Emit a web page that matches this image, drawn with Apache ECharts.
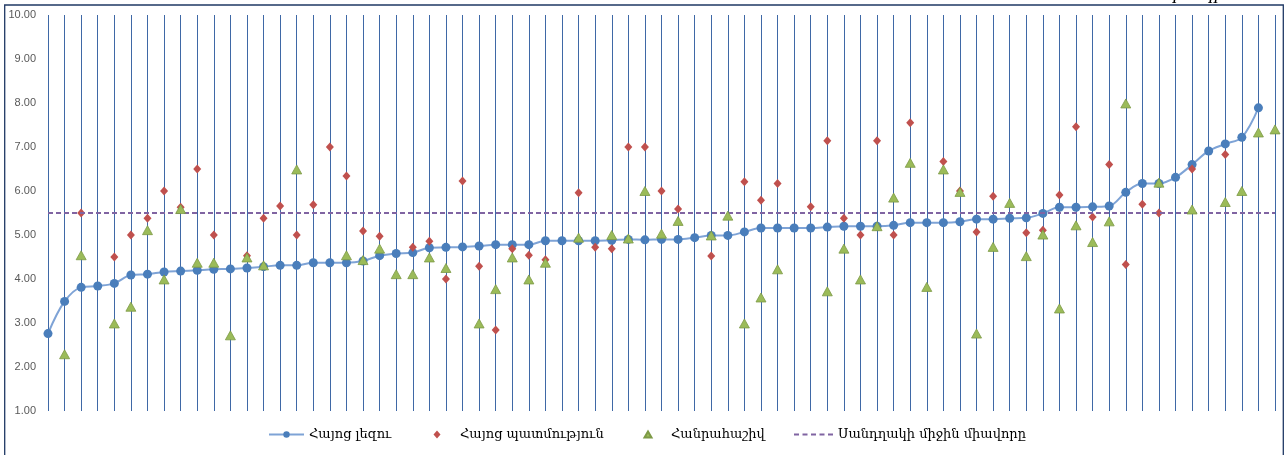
<!DOCTYPE html>
<html>
<head>
<meta charset="utf-8">
<script src="https://cdn.jsdelivr.net/npm/echarts@6/dist/echarts.min.js"></script>
<style>
html,body{margin:0;padding:0;background:#fff;}
#chart{width:1285px;height:455px;}
</style>
</head>
<body>
<div id="chart"></div>
<script>
const categories = ["1","2","3","4","5","6","7","8","9","10","11","12","13","14","15","16","17","18","19","20","21","22","23","24","25","26","27","28","29","30","31","32","33","34","35","36","37","38","39","40","41","42","43","44","45","46","47","48","49","50","51","52","53","54","55","56","57","58","59","60","61","62","63","64","65","66","67","68","69","70","71","72","73","74","75"];

const seriesNames = ["Հայոց լեզու", "Հայոց պատմություն", "Հանրահաշիվ", "Սանդղակի միջին միավորը"];

const armenianLanguage = [2.76,3.49,3.81,3.84,3.90,4.09,4.11,4.16,4.18,4.20,4.22,4.23,4.25,4.28,4.31,4.31,4.37,4.37,4.37,4.41,4.53,4.58,4.60,4.71,4.72,4.73,4.75,4.78,4.78,4.78,4.87,4.87,4.87,4.87,4.88,4.90,4.89,4.90,4.90,4.94,4.99,4.99,5.07,5.16,5.16,5.16,5.16,5.18,5.20,5.20,5.20,5.22,5.28,5.28,5.28,5.30,5.36,5.36,5.38,5.39,5.49,5.63,5.63,5.64,5.66,5.97,6.17,6.17,6.31,6.60,6.91,7.07,7.22,7.89,null];

const armenianHistory = [null,null,5.50,null,4.50,5.00,5.38,6.00,5.63,6.50,5.00,null,4.53,5.38,5.66,5.00,5.69,7.00,6.34,5.09,4.97,null,4.72,4.86,4.00,6.23,4.29,2.84,4.69,4.54,4.44,null,5.96,4.72,4.69,7.00,7.00,6.00,5.59,null,4.52,null,6.21,5.79,6.17,null,5.64,7.14,5.38,5.00,7.14,5.00,7.55,null,6.67,6.00,5.07,5.88,null,5.05,5.11,5.91,7.46,5.41,6.60,4.33,5.70,5.50,null,6.50,null,6.83,null,null,null];

const algebra = [null,2.29,4.54,null,2.99,3.37,5.11,3.99,5.59,4.37,4.37,2.72,4.49,4.31,null,6.49,null,null,4.54,4.43,4.69,4.11,4.11,4.49,4.25,null,2.99,3.77,4.49,3.99,4.37,null,4.94,null,5.00,4.92,6.00,5.03,5.32,null,4.99,5.44,2.99,3.58,4.22,null,null,3.72,4.69,3.99,5.20,5.85,6.64,3.82,6.49,5.98,2.76,4.73,5.73,4.52,5.01,3.33,5.22,4.84,5.31,7.99,null,6.19,null,5.58,null,5.75,6.00,7.33,7.40];

const scaleMean = 5.5;
const yTicks = {min: 1, max: 10, interval: 1};

const chart = echarts.init(document.getElementById('chart'), null, {renderer: 'canvas'});
const armFont = "'DejaVu Serif', 'DejaVu Sans', serif";
const legendText = {fontFamily: armFont, fontSize: 13, color: '#000'};
const dashIcon = 'path://M0,0h5v2h-5z M8.5,0h5v2h-5z M17,0h5v2h-5z M25.5,0h5v2h-5z M34,0h5v2h-5z';

chart.setOption({
  animation: false,
  backgroundColor: '#ffffff',
  grid: {left: 48, right: 10, top: 15, bottom: 44, containLabel: false},
  xAxis: {
    type: 'category',
    data: categories,
    boundaryGap: false,
    axisLine: {show: false},
    axisTick: {show: false},
    axisLabel: {show: false},
    splitLine: {show: true, interval: 0, lineStyle: {color: '#3f68a6', width: 1}}
  },
  yAxis: {
    type: 'value',
    min: yTicks.min, max: yTicks.max, interval: yTicks.interval,
    axisLine: {show: false},
    axisTick: {show: false},
    splitLine: {show: false},
    axisLabel: {
      margin: 12,
      color: '#595959',
      fontSize: 11,
      fontFamily: "'Liberation Sans', Arial, sans-serif",
      formatter: v => v.toFixed(2)
    }
  },
  legend: [
    {left: 268, top: 428, padding: 0, itemWidth: 35, itemHeight: 8, textStyle: legendText, data: [seriesNames[0]]},
    {left: 433.5, top: 428, padding: 0, itemWidth: 7, itemHeight: 8, textStyle: Object.assign({padding: [0, 0, 0, 14.5]}, legendText), data: [seriesNames[1]]},
    {left: 643.5, top: 428, padding: 0, itemWidth: 7, itemHeight: 6, textStyle: Object.assign({padding: [0, 0, 0, 14.5]}, legendText), data: [seriesNames[2]]},
    {left: 794, top: 428, padding: 0, itemWidth: 39, itemHeight: 2, textStyle: legendText, data: [{name: seriesNames[3], icon: dashIcon, itemStyle: {color: '#8064a2'}}]}
  ],
  graphic: [
    {type: 'rect', shape: {x: 4.7, y: 5, width: 1278.6, height: 470}, style: {fill: 'none', stroke: '#1f3864', lineWidth: 1.3}, silent: true},
    {type: 'text', x: 1172, y: 7, style: {text: 'I', font: 'italic 16px "Liberation Serif", serif', fill: '#000', verticalAlign: 'bottom'}, silent: true},
    {type: 'text', x: 1208, y: 7, style: {text: 'II', font: 'italic 16px "Liberation Serif", serif', fill: '#000', verticalAlign: 'bottom'}, silent: true}
  ],
  series: [
    {
      name: seriesNames[0],
      type: 'line',
      data: armenianLanguage,
      smooth: 0.35,
      symbol: 'circle',
      symbolSize: 9,
      itemStyle: {color: '#4a7ebb'},
      lineStyle: {color: '#7ea3d6', width: 2},
      z: 3
    },
    {
      name: seriesNames[1],
      type: 'scatter',
      data: armenianHistory,
      symbol: 'diamond',
      symbolSize: [8, 9],
      itemStyle: {color: '#c0504d', opacity: 1},
      z: 4
    },
    {
      name: seriesNames[2],
      type: 'scatter',
      data: algebra,
      symbol: 'triangle',
      symbolSize: [10, 9],
      itemStyle: {color: '#9bbb59', borderColor: '#7d9a46', borderWidth: 0.8, opacity: 1},
      z: 5
    },
    {
      name: seriesNames[3],
      type: 'line',
      data: [],
      symbol: 'none',
      itemStyle: {color: '#8064a2'},
      lineStyle: {color: '#8064a2', width: 2, type: [5, 3]},
      markLine: {
        silent: true,
        symbol: 'none',
        label: {show: false},
        lineStyle: {color: '#8064a2', width: 2, type: [5, 3]},
        data: [{yAxis: scaleMean}]
      },
      z: 2
    }
  ]
});
</script>
</body>
</html>
